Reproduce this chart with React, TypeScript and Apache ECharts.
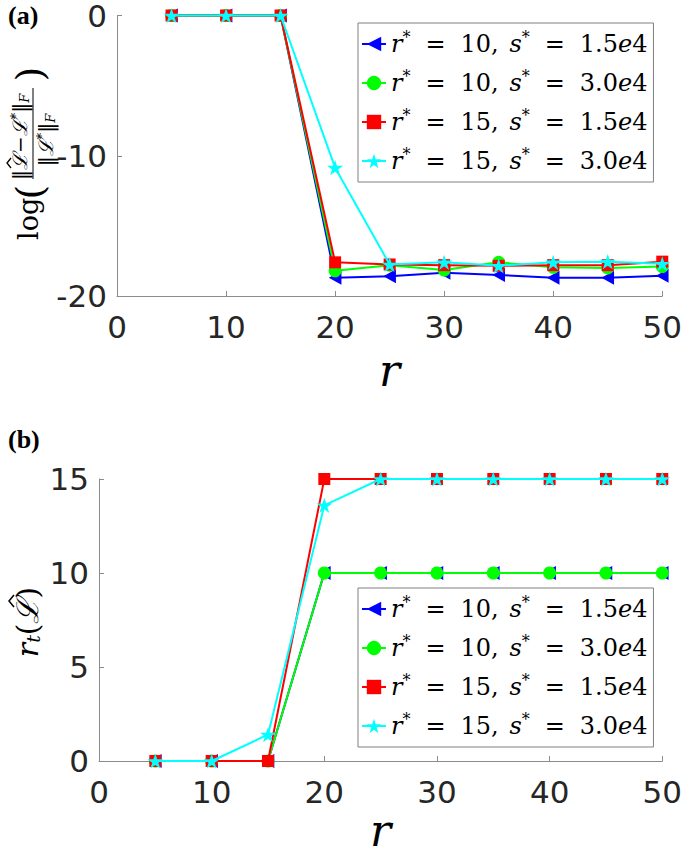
import React, { useEffect, useRef } from 'react';
import * as echarts from 'echarts';

// ---------- data ----------
const rValues = [5, 10, 15, 20, 25, 30, 35, 40, 45, 50];

// panel (a): log relative error
const errR10S15 = [0, 0, 0, -18.7, -18.6, -18.35, -18.5, -18.7, -18.7, -18.55];
const errR10S30 = [0, 0, 0, -18.2, -17.8, -18.15, -17.6, -17.95, -18.0, -17.9];
const errR15S15 = [0, 0, 0, -17.6, -17.75, -17.8, -17.85, -17.8, -17.8, -17.55];
const errR15S30 = [0, 0, 0, -10.85, -17.75, -17.6, -17.85, -17.6, -17.55, -17.7];

// panel (b): estimated rank
const rankR10S15 = [0, 0, 0, 10, 10, 10, 10, 10, 10, 10];
const rankR10S30 = [0, 0, 0, 10, 10, 10, 10, 10, 10, 10];
const rankR15S15 = [0, 0, 0, 15, 15, 15, 15, 15, 15, 15];
const rankR15S30 = [0, 0, 1.4, 13.6, 15, 15, 15, 15, 15, 15];

const seriesNames = ['r10_s1.5e4', 'r10_s3.0e4', 'r15_s1.5e4', 'r15_s3.0e4'];
const legendR = ['10', '10', '15', '15'];
const legendS = ['1.5', '3.0', '1.5', '3.0'];

const xTickMin = 0;
const xTickMax = 50;
const xTickStep = 10;
const yTicksA = { min: -20, max: 0, step: 10 };
const yTicksB = { min: 0, max: 15, step: 5 };

// ---------- styles ----------
const colors = ['#0000ff', '#00ff00', '#ff0000', '#00ffff'];
const symbols = [
  'path://M0,50 L90,0 L90,100 Z',
  'circle',
  'rect',
  'path://M50,0 L61.2,34.5 L97.6,34.5 L68.2,55.9 L79.4,90.5 L50,69.1 L20.6,90.5 L31.8,55.9 L2.4,34.5 L38.8,34.5 Z',
];
const symbolSizes = [14, 13, 12, 16];

const AXIS_GRAY = '#8c8c8c';
const TICK_COLOR = '#262626';

function makeXAxis(gridIndex: number, nameGap: number) {
  return {
    gridIndex,
    type: 'value',
    min: xTickMin,
    max: xTickMax,
    interval: xTickStep,
    axisLine: { onZero: false, lineStyle: { color: AXIS_GRAY, width: 1 } },
    axisTick: { inside: true, length: 5, lineStyle: { color: AXIS_GRAY } },
    axisLabel: { fontFamily: 'DejaVu Sans', fontSize: 31, lineHeight: 31, color: TICK_COLOR, margin: 15 },
    splitLine: { show: false },
    name: 'r',
    nameLocation: 'middle',
    nameGap,
    nameTextStyle: { fontFamily: 'DejaVu Serif', fontStyle: 'italic', fontSize: 44, color: '#000' },
  };
}

function makeYAxis(gridIndex: number, t: { min: number; max: number; step: number }) {
  return {
    gridIndex,
    type: 'value',
    min: t.min,
    max: t.max,
    interval: t.step,
    axisLine: { show: true, onZero: false, lineStyle: { color: AXIS_GRAY, width: 1 } },
    axisTick: { show: true, inside: true, length: 5, lineStyle: { color: AXIS_GRAY } },
    axisLabel: { fontFamily: 'DejaVu Sans', fontSize: 31, lineHeight: 22, color: TICK_COLOR, margin: 10 },
    splitLine: { show: false },
  };
}

const legendRich = {
  i: { fontFamily: 'DejaVu Serif', fontStyle: 'italic', fontSize: 24, color: '#000' },
  n: { fontFamily: 'DejaVu Serif', fontSize: 24, color: '#000' },
  eq: { fontFamily: 'DejaVu Serif', fontSize: 24, color: '#000', padding: [0, 15, 0, 15] },
  sp: { fontFamily: 'DejaVu Serif', fontSize: 24, color: '#000', padding: [0, 3, 0, 0] },
  sup: { fontFamily: 'DejaVu Serif', fontSize: 16, color: '#000', padding: [0, 0, 13, 0] },
};

function legendFormatter(name: string) {
  const k = seriesNames.indexOf(name);
  return (
    '{i|r}{sup|*}{eq|=}{n|' +
    legendR[k] +
    ',}{sp| }{i|s}{sup|*}{eq|=}{n|' +
    legendS[k] +
    '}{i|e}{n|4}'
  );
}

function makeLegend(top: number) {
  return {
    orient: 'vertical',
    left: 358,
    top,
    itemWidth: 24,
    itemHeight: 18,
    itemGap: 9,
    padding: [6, 6, 6, 3],
    borderColor: '#808080',
    borderWidth: 1,
    backgroundColor: '#fff',
    selectedMode: false,
    data: seriesNames,
    formatter: legendFormatter,
    textStyle: { rich: legendRich, lineHeight: 30 },
  };
}

const serif = 'DejaVu Serif';
const fracRich = {
  n: { fontFamily: serif, fontSize: 20, fill: '#000' },
  i: { fontFamily: serif, fontStyle: 'italic', fontSize: 20, fill: '#000' },
  sup: { fontFamily: serif, fontSize: 13, fill: '#000', padding: [0, 0, 10, 0] },
  sub: { fontFamily: serif, fontStyle: 'italic', fontSize: 13, fill: '#000', padding: [8, 0, 0, 0] },
};

export default function App() {
  const ref = useRef<HTMLDivElement>(null);

  useEffect(() => {
    if (!ref.current) return;
    const chart = echarts.init(ref.current, null, { renderer: 'svg' });

    const errData = [errR10S15, errR10S30, errR15S15, errR15S30];
    const rankData = [rankR10S15, rankR10S30, rankR15S15, rankR15S30];

    const series: any[] = [];
    [errData, rankData].forEach((panel, p) => {
      panel.forEach((vals, k) => {
        series.push({
          type: 'line',
          name: seriesNames[k],
          xAxisIndex: p,
          yAxisIndex: p,
          data: rValues.map((r, i) => [r, vals[i]]),
          symbol: symbols[k],
          symbolSize: symbolSizes[k],
          symbolKeepAspect: true,
          showAllSymbol: true,
          itemStyle: { color: colors[k] },
          lineStyle: { color: colors[k], width: 2 },
          clip: false,
          z: 2 + k,
          emphasis: { disabled: true },
        });
      });
    });

    const option: any = {
      animation: false,
      backgroundColor: '#fff',
      grid: [
        { left: 117, top: 13, width: 552, height: 283 },
        { left: 99, top: 479, width: 570, height: 282 },
      ],
      xAxis: [makeXAxis(0, 52), makeXAxis(1, 47)],
      yAxis: [makeYAxis(0, yTicksA), makeYAxis(1, yTicksB)],
      legend: [makeLegend(23), makeLegend(588)],
      series,
      graphic: [
        {
          type: 'text',
          left: 8,
          top: 2,
          style: { text: '(a)', font: 'bold 26px "Liberation Serif"', fill: '#000' },
        },
        {
          type: 'text',
          left: 8,
          top: 426,
          style: { text: '(b)', font: 'bold 26px "Liberation Serif"', fill: '#000' },
        },
        {
          type: 'group',
          x: 33,
          y: 152,
          rotation: Math.PI / 2,
          children: [
            {
              type: 'text',
              x: -88,
              y: -5,
              style: { text: 'log', fontFamily: serif, fontSize: 27, fill: '#000', align: 'left', verticalAlign: 'middle' },
            },
            {
              type: 'text',
              x: -40,
              y: -3,
              style: { text: '(', fontFamily: serif, fontSize: 38, fill: '#000', align: 'center', verticalAlign: 'middle' },
            },
            {
              type: 'text',
              x: -28,
              y: -13,
              style: {
                text: '{n|‖}{i|ℒ}{n|−}{i|ℒ}{sup|*}{n|‖}{sub|F}',
                align: 'left',
                verticalAlign: 'middle',
                rich: fracRich,
              },
            },
            {
              type: 'polyline',
              shape: { points: [[-16, -22], [-11, -26], [-6, -22]] },
              style: { stroke: '#000', lineWidth: 1.3, fill: null },
            },
            {
              type: 'line',
              shape: { x1: -27, y1: 0, x2: 64, y2: 0 },
              style: { stroke: '#000', lineWidth: 1 },
            },
            {
              type: 'text',
              x: 12,
              y: 13,
              style: {
                text: '{n|‖}{i|ℒ}{sup|*}{n|‖}{sub|F}',
                align: 'center',
                verticalAlign: 'middle',
                rich: fracRich,
              },
            },
            {
              type: 'text',
              x: 78,
              y: -3,
              style: { text: ')', fontFamily: serif, fontSize: 38, fill: '#000', align: 'center', verticalAlign: 'middle' },
            },
          ],
        },
        {
          type: 'group',
          x: 27,
          y: 622,
          rotation: Math.PI / 2,
          children: [
            {
              type: 'text',
              x: 0,
              y: 0,
              style: {
                text: '{i|r}{sub|t}{n|(}{i|ℒ}{n|)}',
                align: 'center',
                verticalAlign: 'middle',
                rich: {
                  n: { fontFamily: serif, fontSize: 30, fill: '#000' },
                  i: { fontFamily: serif, fontStyle: 'italic', fontSize: 30, fill: '#000' },
                  sub: { fontFamily: serif, fontStyle: 'italic', fontSize: 19, fill: '#000', padding: [12, 0, 0, 0] },
                },
              },
            },
            {
              type: 'polyline',
              shape: { points: [[15, -13], [21, -18], [27, -13]] },
              style: { stroke: '#000', lineWidth: 1.5, fill: null },
            },
          ],
        },
      ],
    };

    chart.setOption(option);
    return () => chart.dispose();
  }, []);

  return (
    <div
      ref={ref}
      style={{ position: 'fixed', left: 0, top: 0, width: 685, height: 856, background: '#fff' }}
    />
  );
}
